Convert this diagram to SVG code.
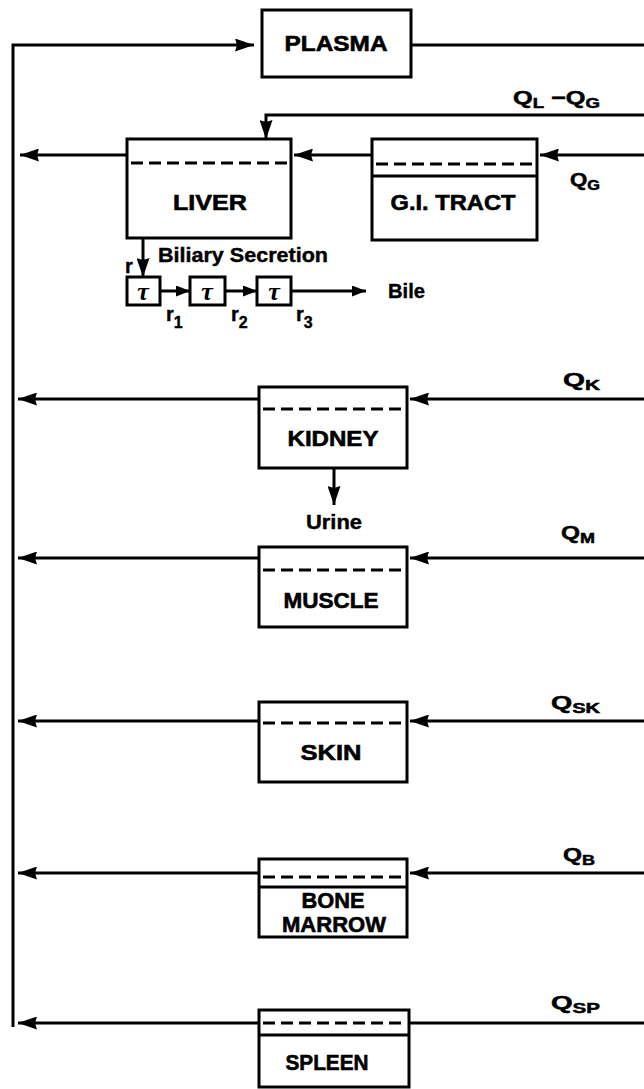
<svg xmlns="http://www.w3.org/2000/svg" width="644" height="1089" viewBox="0 0 644 1089">
<style>
.box{fill:#fff;stroke:#000;stroke-width:3}
.sep{fill:none;stroke:#000;stroke-width:3}
.dash{fill:none;stroke:#000;stroke-width:3;stroke-dasharray:12 6}
.ln{fill:none;stroke:#000;stroke-width:3}
.lab{font-family:"Liberation Sans",Arial,sans-serif;font-weight:bold;font-size:22px;text-anchor:middle;fill:#000;stroke:#000;stroke-width:0.6}
.q{font-family:"Liberation Sans",Arial,sans-serif;font-weight:bold;font-size:19px;fill:#000;stroke:#000;stroke-width:0.5}
.sm{font-family:"Liberation Sans",Arial,sans-serif;font-weight:bold;font-size:20px;fill:#000;stroke:#000;stroke-width:0.4}
.tau{font-family:"Liberation Serif","Times New Roman",serif;font-style:italic;font-weight:bold;font-size:26px;text-anchor:middle;fill:#000}
</style>
<defs>
<marker id="ah" viewBox="0 0 19 13" refX="19" refY="6.5" markerWidth="19" markerHeight="13" markerUnits="userSpaceOnUse" orient="auto">
<path d="M0,0 L19,6.5 L0,13 L2,6.5 z" fill="#000"/>
</marker>
<marker id="ahs" viewBox="0 0 14 11" refX="14" refY="5.5" markerWidth="14" markerHeight="11" markerUnits="userSpaceOnUse" orient="auto">
<path d="M0,0 L14,5.5 L0,11 z" fill="#000"/>
</marker>
</defs>
<rect width="644" height="1089" fill="#fff"/>
<g id="connectors">
<path class="ln" d="M13,1027 V45 H254" marker-end="url(#ah)"/>
<path class="ln" d="M411,45 H644"/>
<path class="ln" d="M644,115 H266 V139" marker-end="url(#ah)"/>
<path class="ln" d="M644,155 H540" marker-end="url(#ah)"/>
<path class="ln" d="M372,155 H294" marker-end="url(#ah)"/>
<path class="ln" d="M127,155 H20" marker-end="url(#ah)"/>
<path class="ln" d="M143,238 V277" marker-end="url(#ah)"/>
<path class="ln" d="M160,291 H190" marker-end="url(#ahs)"/>
<path class="ln" d="M225,291 H257" marker-end="url(#ahs)"/>
<path class="ln" d="M291,291 H366" marker-end="url(#ahs)"/>
<path class="ln" d="M644,399 H410" marker-end="url(#ah)"/>
<path class="ln" d="M259,399 H18" marker-end="url(#ah)"/>
<path class="ln" d="M334,468 V505" marker-end="url(#ah)"/>
<path class="ln" d="M644,558 H410" marker-end="url(#ah)"/>
<path class="ln" d="M259,558 H18" marker-end="url(#ah)"/>
<path class="ln" d="M644,721 H410" marker-end="url(#ah)"/>
<path class="ln" d="M259,721 H18" marker-end="url(#ah)"/>
<path class="ln" d="M644,873 H410" marker-end="url(#ah)"/>
<path class="ln" d="M259,873 H18" marker-end="url(#ah)"/>
<path class="ln" d="M644,1023 H409"/>
<path class="ln" d="M259,1023 H18" marker-end="url(#ah)"/>
<text class="q" x="513" y="104" textLength="87" lengthAdjust="spacingAndGlyphs">Q<tspan font-size="14" dy="4">L</tspan><tspan dy="-4"> −Q</tspan><tspan font-size="14" dy="4">G</tspan></text>
<text class="q" x="570" y="186" textLength="30" lengthAdjust="spacingAndGlyphs">Q<tspan font-size="14" dy="4">G</tspan></text>
<text class="q" x="563" y="386" textLength="37" lengthAdjust="spacingAndGlyphs">Q<tspan font-size="14" dy="4">K</tspan></text>
<text class="q" x="561" y="539" textLength="34" lengthAdjust="spacingAndGlyphs">Q<tspan font-size="14" dy="4">M</tspan></text>
<text class="q" x="551" y="709" textLength="49" lengthAdjust="spacingAndGlyphs">Q<tspan font-size="14" dy="4">SK</tspan></text>
<text class="q" x="563" y="861" textLength="32" lengthAdjust="spacingAndGlyphs">Q<tspan font-size="14" dy="4">B</tspan></text>
<text class="q" x="551" y="1009" textLength="49" lengthAdjust="spacingAndGlyphs">Q<tspan font-size="14" dy="4">SP</tspan></text>
<text class="sm" x="158" y="262" textLength="170" lengthAdjust="spacingAndGlyphs">Biliary Secretion</text>
<text class="sm" x="125" y="273" font-size="12">r</text>
<text class="sm" x="388" y="298" textLength="37" lengthAdjust="spacingAndGlyphs">Bile</text>
<text class="sm" x="166" y="321" font-size="13">r<tspan font-size="16" dy="7">1</tspan></text>
<text class="sm" x="231" y="321" font-size="13">r<tspan font-size="16" dy="7">2</tspan></text>
<text class="sm" x="296" y="321" font-size="13">r<tspan font-size="16" dy="7">3</tspan></text>
<text class="sm" x="334" y="529" text-anchor="middle" textLength="56" lengthAdjust="spacingAndGlyphs">Urine</text>
</g>
<g id="plasma">
<rect class="box" x="262" y="10" width="149" height="67"/>
<text class="lab" x="336" y="51" textLength="103" lengthAdjust="spacingAndGlyphs">PLASMA</text>
</g>
<g id="liver">
<rect class="box" x="127" y="139" width="164" height="99"/>
<line class="dash" x1="131" y1="163" x2="288" y2="163"/>
<text class="lab" x="210" y="210" textLength="74" lengthAdjust="spacingAndGlyphs">LIVER</text>
</g>
<g id="gi-tract">
<rect class="box" x="372" y="139" width="165" height="101"/>
<line class="dash" x1="376" y1="164" x2="534" y2="164"/>
<line class="sep" x1="372" y1="176" x2="537" y2="176"/>
<text class="lab" x="453" y="210" textLength="125" lengthAdjust="spacingAndGlyphs">G.I. TRACT</text>
</g>
<g id="tau1">
<rect class="box" x="127" y="277" width="33" height="28"/>
<text class="tau" x="143" y="300">τ</text>
</g>
<g id="tau2">
<rect class="box" x="190" y="277" width="35" height="28"/>
<text class="tau" x="207" y="300">τ</text>
</g>
<g id="tau3">
<rect class="box" x="257" y="277" width="34" height="28"/>
<text class="tau" x="274" y="300">τ</text>
</g>
<g id="kidney">
<rect class="box" x="259" y="387" width="148" height="81"/>
<line class="dash" x1="263" y1="409" x2="404" y2="409"/>
<text class="lab" x="333" y="446" textLength="91" lengthAdjust="spacingAndGlyphs">KIDNEY</text>
</g>
<g id="muscle">
<rect class="box" x="259" y="547" width="148" height="80"/>
<line class="dash" x1="263" y1="570" x2="404" y2="570"/>
<text class="lab" x="331" y="608" textLength="95" lengthAdjust="spacingAndGlyphs">MUSCLE</text>
</g>
<g id="skin">
<rect class="box" x="259" y="702" width="148" height="80"/>
<line class="dash" x1="263" y1="723" x2="404" y2="723"/>
<text class="lab" x="331" y="760" textLength="61" lengthAdjust="spacingAndGlyphs">SKIN</text>
</g>
<g id="bone-marrow">
<rect class="box" x="259" y="859" width="148" height="78"/>
<line class="dash" x1="263" y1="877" x2="404" y2="877"/>
<line class="sep" x1="259" y1="887" x2="407" y2="887"/>
<text class="lab" x="333" y="908" textLength="63" lengthAdjust="spacingAndGlyphs">BONE</text>
<text class="lab" x="334" y="932" textLength="104" lengthAdjust="spacingAndGlyphs">MARROW</text>
</g>
<g id="spleen">
<rect class="box" x="259" y="1010" width="150" height="77"/>
<line class="dash" x1="263" y1="1023" x2="406" y2="1023"/>
<line class="sep" x1="259" y1="1035" x2="409" y2="1035"/>
<text class="lab" x="327" y="1070" textLength="83" lengthAdjust="spacingAndGlyphs">SPLEEN</text>
</g>
</svg>
